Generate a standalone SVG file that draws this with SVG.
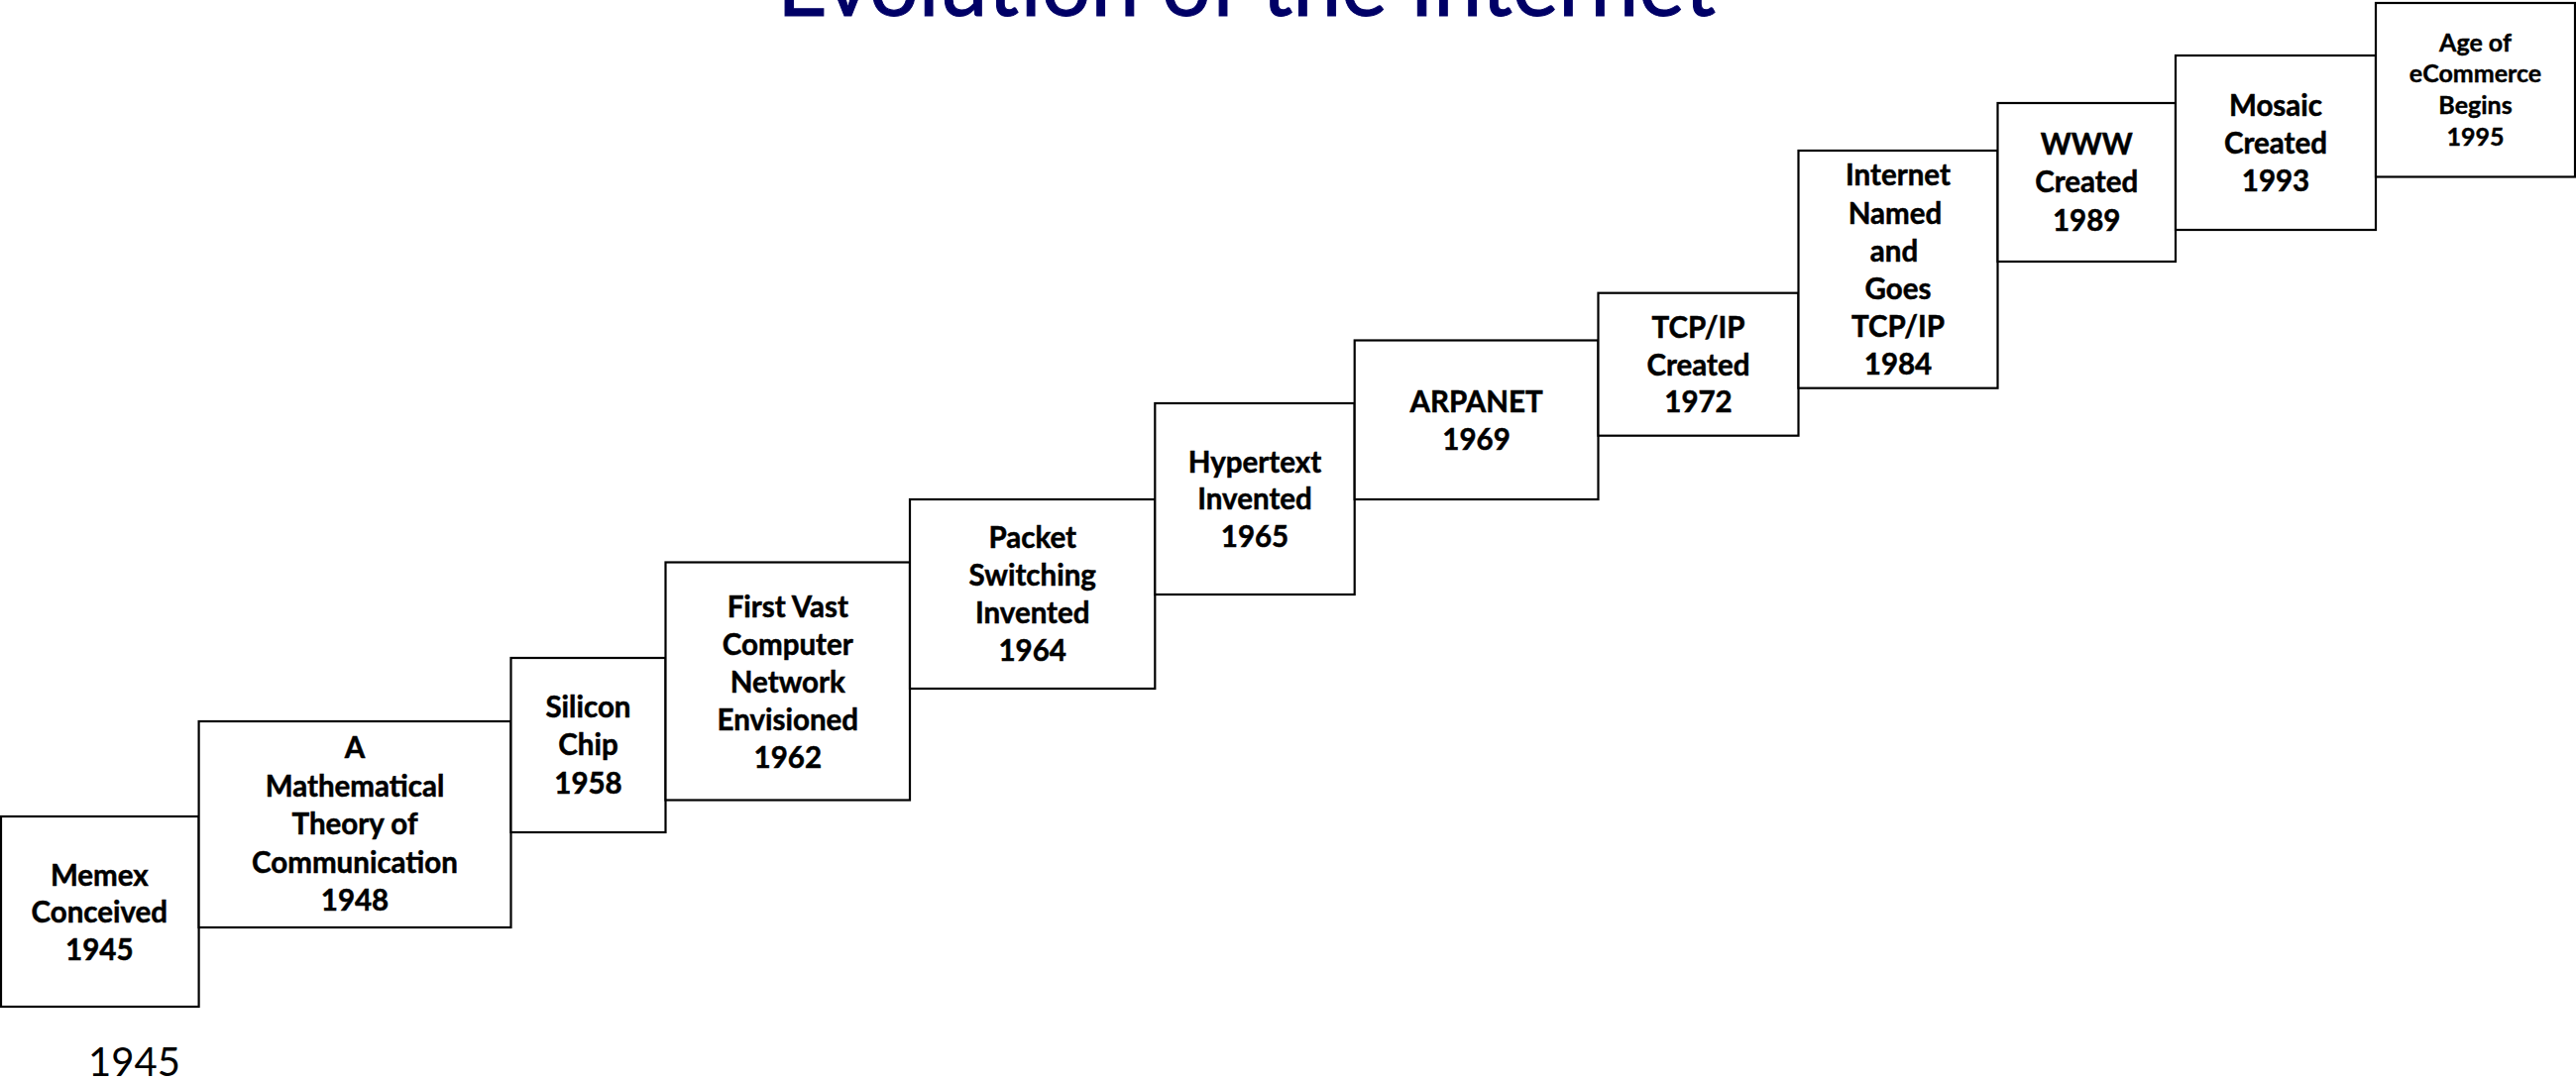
<svg xmlns="http://www.w3.org/2000/svg" width="2599" height="1091" viewBox="0 0 2599 1091">
<style>
  .box { fill: #ffffff; stroke: #000000; stroke-width: 2.2; }
  .lbl { font-family: Lato, "Liberation Sans", sans-serif; font-weight: bold; font-size: 29.5px; fill: #000000; stroke: #000000; stroke-width: 0.5; text-anchor: middle; }
  .lbl-s { font-family: Lato, "Liberation Sans", sans-serif; font-weight: bold; font-size: 25px; fill: #000000; stroke: #000000; stroke-width: 0.4; text-anchor: middle; }
  .title { font-family: Lato, "Liberation Sans", sans-serif; font-size: 92px; fill: #000066; stroke: #000066; stroke-width: 1; }
  .axis { font-family: Lato, "Liberation Sans", sans-serif; font-size: 40px; fill: #000000; text-anchor: middle; }
</style>
<rect width="2599" height="1091" fill="#ffffff"/>
<text class="title" x="784" y="16" textLength="947" lengthAdjust="spacingAndGlyphs">Evolution of the Internet</text>
<g id="connectors"></g>
<g id="n1945">
  <rect class="box" x="1" y="824" width="199.6" height="192"/>
  <text class="lbl"><tspan x="100.3" y="893.7">Memex</tspan><tspan x="100.3" y="931.3">Conceived</tspan><tspan x="100.3" y="969">1945</tspan></text>
</g>
<g id="n1948">
  <rect class="box" x="200.6" y="728" width="314.9" height="208"/>
  <text class="lbl"><tspan x="358" y="765">A</tspan><tspan x="358" y="803.6">Mathematical</tspan><tspan x="358" y="842.1">Theory of</tspan><tspan x="358" y="880.7">Communication</tspan><tspan x="358" y="919.3">1948</tspan></text>
</g>
<g id="n1958">
  <rect class="box" x="515.5" y="664" width="156" height="176"/>
  <text class="lbl"><tspan x="593.5" y="724">Silicon</tspan><tspan x="593.5" y="762.3">Chip</tspan><tspan x="593.5" y="800.7">1958</tspan></text>
</g>
<g id="n1962">
  <rect class="box" x="671.5" y="567.5" width="246.5" height="240"/>
  <text class="lbl"><tspan x="794.8" y="622.7">First Vast</tspan><tspan x="794.8" y="660.8">Computer</tspan><tspan x="794.8" y="698.9">Network</tspan><tspan x="794.8" y="737">Envisioned</tspan><tspan x="794.8" y="775">1962</tspan></text>
</g>
<g id="n1964">
  <rect class="box" x="918" y="504" width="247.3" height="191"/>
  <text class="lbl"><tspan x="1041.7" y="552.7">Packet</tspan><tspan x="1041.7" y="590.9">Switching</tspan><tspan x="1041.7" y="629.1">Invented</tspan><tspan x="1041.7" y="667.3">1964</tspan></text>
</g>
<g id="n1965">
  <rect class="box" x="1165.3" y="407" width="201.4" height="193"/>
  <text class="lbl"><tspan x="1266" y="476.7">Hypertext</tspan><tspan x="1266" y="514.2">Invented</tspan><tspan x="1266" y="551.7">1965</tspan></text>
</g>
<g id="n1969">
  <rect class="box" x="1366.7" y="343.5" width="245.8" height="160.5"/>
  <text class="lbl"><tspan x="1489.6" y="416">ARPANET</tspan><tspan x="1489.6" y="453.5">1969</tspan></text>
</g>
<g id="n1972">
  <rect class="box" x="1612.5" y="295.7" width="202" height="144"/>
  <text class="lbl"><tspan x="1713.5" y="341">TCP/IP</tspan><tspan x="1713.5" y="378.5">Created</tspan><tspan x="1713.5" y="416">1972</tspan></text>
</g>
<g id="n1984">
  <rect class="box" x="1814.5" y="152" width="201" height="239.7"/>
  <text class="lbl"><tspan x="1915" y="187.3">Internet</tspan><tspan x="1912" y="225.5">Named</tspan><tspan x="1911" y="263.7">and</tspan><tspan x="1915" y="301.9">Goes</tspan><tspan x="1915" y="340.1">TCP/IP</tspan><tspan x="1915" y="378.3">1984</tspan></text>
</g>
<g id="n1989">
  <rect class="box" x="2015.5" y="104" width="179.5" height="160"/>
  <text class="lbl"><tspan x="2105.2" y="156">WWW</tspan><tspan x="2105.2" y="194.3">Created</tspan><tspan x="2105.2" y="232.7">1989</tspan></text>
</g>
<g id="n1993">
  <rect class="box" x="2195" y="56" width="202" height="176"/>
  <text class="lbl"><tspan x="2296" y="116.7">Mosaic</tspan><tspan x="2296" y="155">Created</tspan><tspan x="2296" y="193.3">1993</tspan></text>
</g>
<g id="n1995">
  <rect class="box" x="2397" y="3" width="201" height="175.5"/>
  <text class="lbl-s"><tspan x="2497.5" y="51.7">Age of</tspan><tspan x="2497.5" y="83.3">eCommerce</tspan><tspan x="2497.5" y="115">Begins</tspan><tspan x="2497.5" y="146.7">1995</tspan></text>
</g>
<text class="axis" x="135.5" y="1086">1945</text>
</svg>
